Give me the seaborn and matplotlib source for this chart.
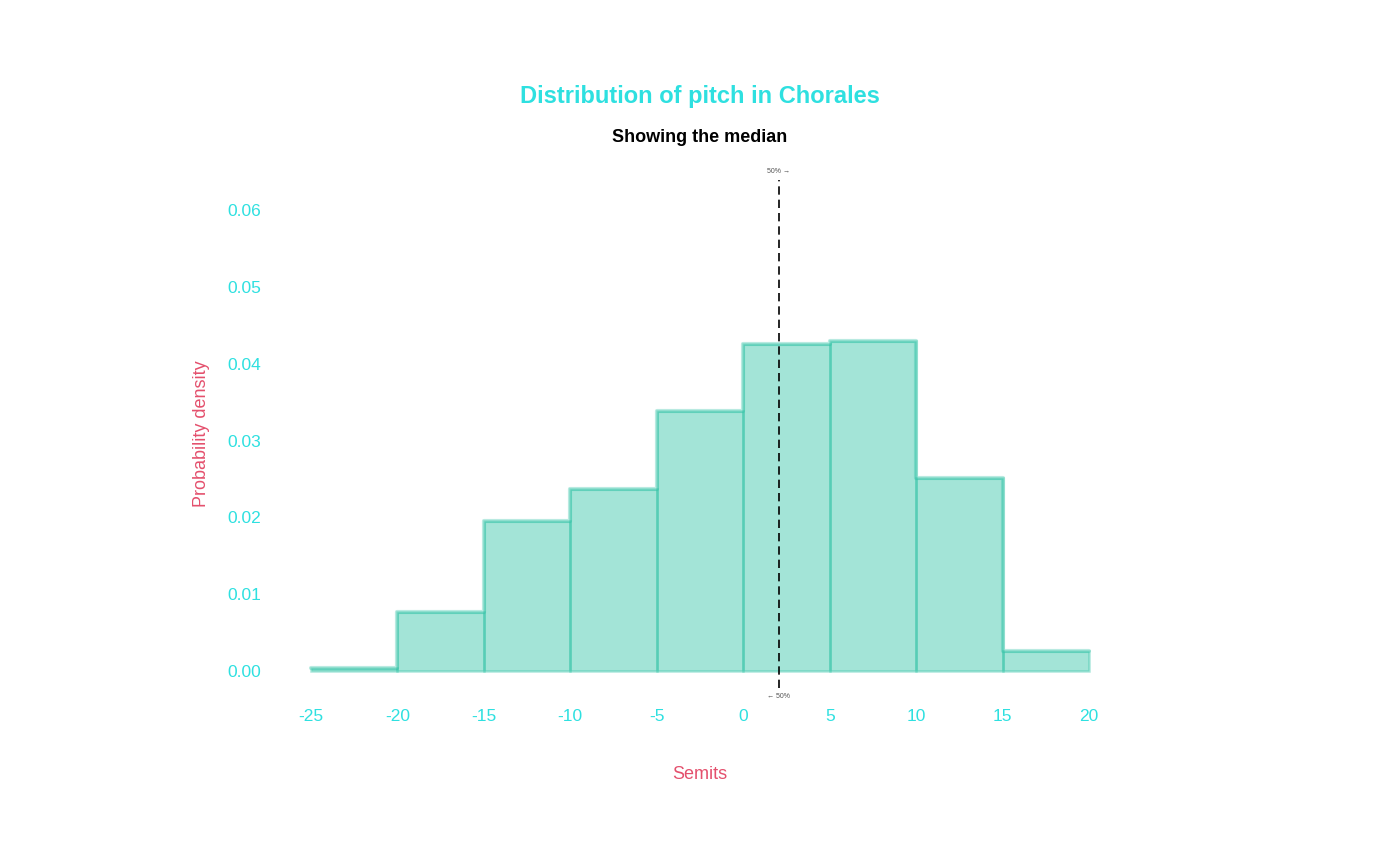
import matplotlib
matplotlib.use("Agg")
import matplotlib.pyplot as plt
import seaborn as sns
import numpy as np

bin_edges = [-25, -20, -15, -10, -5, 0, 5, 10, 15, 20]
bin_centers = [-22.5, -17.5, -12.5, -7.5, -2.5, 2.5, 7.5, 12.5, 17.5]
density = [0.0004, 0.0077, 0.0195, 0.0237, 0.0339, 0.0426, 0.0430, 0.0251, 0.0026]
median_value = 2.05
x_ticks = [-25, -20, -15, -10, -5, 0, 5, 10, 15, 20]
y_ticks = [0.00, 0.01, 0.02, 0.03, 0.04, 0.05, 0.06]

sns.set_theme(style="white")
plt.rcParams['font.family'] = ['Liberation Sans', 'DejaVu Sans']

bar_color = "#1ABC9C"
tick_color = "#2EE0E0"
label_color = "#E4506D"

fig = plt.figure(figsize=(14, 8.65), dpi=100)
ax = fig.add_axes([0.1943, 0.2046, 0.8057 - 0.1943, 0.7919 - 0.2046])

sns.histplot(x=bin_centers, weights=density, bins=bin_edges, stat="count",
             color=bar_color, alpha=0.4, edgecolor=(0.10, 0.74, 0.61, 0.35),
             linewidth=1.8, ax=ax)
sns.histplot(x=bin_centers, weights=density, bins=bin_edges, stat="count",
             element="step", fill=False, color=bar_color, alpha=0.3,
             linewidth=3, ax=ax)

ax.axvline(median_value, color="black", linestyle=(0, (5, 3)), linewidth=1.2)
ax.text(median_value, 0.0650, "50% \u2192", ha="center", va="center",
        fontsize=5, color="#555555")
ax.text(median_value, -0.0033, "\u2190 50%", ha="center", va="center",
        fontsize=5, color="#555555", clip_on=False)

ax.set_xlim(-27.25, 22.25)
ax.set_ylim(-0.0022, 0.0639)
ax.set_xticks(x_ticks)
ax.set_xticklabels([str(t) for t in x_ticks])
ax.set_yticks(y_ticks)
ax.set_yticklabels([f"{t:.2f}" for t in y_ticks])
ax.tick_params(axis="both", length=0, labelsize=12.5, labelcolor=tick_color)
ax.tick_params(axis="x", pad=15)
ax.tick_params(axis="y", pad=8)
for s in ax.spines.values():
    s.set_visible(False)
ax.grid(False)

ax.set_xlabel("Semits", fontsize=13, color=label_color, labelpad=30)
ax.set_ylabel("Probability density", fontsize=13, color=label_color, labelpad=12)

fig.text(0.5, 1 - 96 / 865, "Distribution of pitch in Chorales", ha="center",
         va="center", fontsize=17, fontweight="bold", color=tick_color)
fig.text(0.5, 1 - 137 / 865, "Showing the median", ha="center",
         va="center", fontsize=13, fontweight="bold", color="black")

fig.savefig("out.png", dpi=100)
